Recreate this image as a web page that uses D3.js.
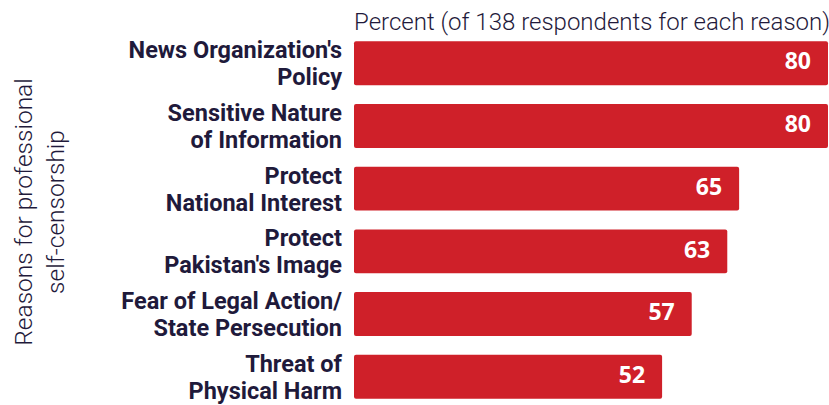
<!DOCTYPE html>
<html><head><meta charset="utf-8">
<script src="https://cdn.jsdelivr.net/npm/d3@7"></script>
<style>body{margin:0;background:#fff}svg{display:block}</style>
</head><body>
<svg id="chart" width="829" height="405"></svg>
<script>
const categories = [
  ["News Organization's", "Policy"],
  ["Sensitive Nature", "of Information"],
  ["Protect", "National Interest"],
  ["Protect", "Pakistan's Image"],
  ["Fear of Legal Action/", "State Persecution"],
  ["Threat of", "Physical Harm"]
];
const values = [80, 80, 65, 63, 57, 52];
const chartTitle = "Percent (of 138 respondents for each reason)";
const axisTitle = ["Reasons for professional", "self-censorship"];

const svg = d3.select("#chart");
const x0 = 354, x1 = 828;
const x = d3.scaleLinear().domain([0, 80]).range([x0, x1]);
const y = d3.scaleBand().domain(d3.range(values.length)).range([35, 405]).paddingInner(0.3).paddingOuter(0.1);
const navy = "#1f1a3b";

svg.append("text").attr("x", x0).attr("y", 30)
  .attr("font-family", "Roboto").attr("font-weight", 300).attr("font-size", 24)
  .attr("fill", navy).text(chartTitle);

svg.selectAll("rect.bar").data(values).join("rect").attr("class", "bar")
  .attr("x", x(0)).attr("y", (d, i) => y(i)).attr("width", d => x(d) - x(0))
  .attr("height", y.bandwidth()).attr("rx", 2).attr("fill", "#cf2029");

svg.selectAll("text.val").data(values).join("text").attr("class", "val")
  .attr("x", d => x(d) - 17).attr("y", (d, i) => y(i) + y.bandwidth() / 2)
  .attr("dy", "0.27em").attr("text-anchor", "end")
  .attr("font-family", "Open Sans").attr("font-weight", 700).attr("font-size", 23)
  .attr("fill", "#fff").text(d => d);

const lab = svg.selectAll("text.lab").data(categories).join("text").attr("class", "lab")
  .attr("text-anchor", "end").attr("font-family", "Roboto").attr("font-weight", 700)
  .attr("font-size", 23.5).attr("fill", navy);
lab.each(function(d, i) {
  const t = d3.select(this);
  const cy = y(i) + y.bandwidth() / 2;
  d.forEach((line, j) => {
    t.append("tspan").attr("x", 342).attr("y", cy - 5 + j * 27).text(line);
  });
});

const at = svg.append("text").attr("transform", "translate(0,212) rotate(-90)")
  .attr("text-anchor", "middle").attr("font-family", "Roboto").attr("font-weight", 300)
  .attr("font-size", 24.5).attr("fill", navy);
axisTitle.forEach((line, j) => {
  at.append("tspan").attr("x", 0).attr("y", 32 + j * 32).text(line);
});
</script>
</body></html>
